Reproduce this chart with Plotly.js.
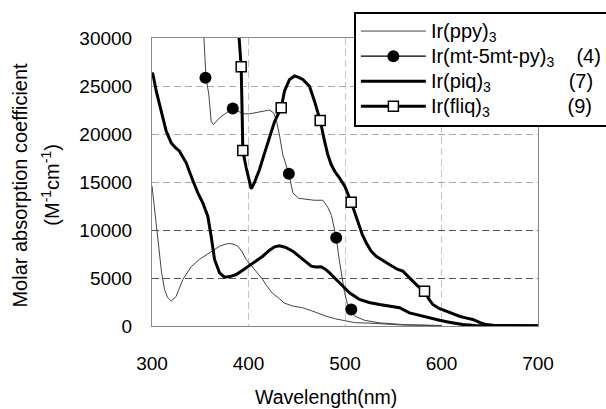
<!DOCTYPE html>
<html>
<head>
<meta charset="utf-8">
<script src="https://cdn.plot.ly/plotly-3.0.1.min.js"></script>
<style>html,body{margin:0;padding:0;background:#fff;}#chart{width:606px;height:409px;}</style>
</head>
<body>
<div id="chart"></div>
<script>
// Ir(ppy)3
const ppyX = [300,302,304,307.8,310,313,316,320,325,332,340.6,349,355,361,370,377,381,385,389,393,397.6,402,408,414.8,418,421.8,425,432,437,445,456,465,472,480.5,490,501,510,525,540,560,600];
const ppyY = [14600,12800,10400,7270,5500,3800,3000,2580,3100,4840,6170,6930,7300,7690,8310,8550,8590,8500,8310,7800,6930,6400,5710,4840,4300,3800,3400,2850,2400,2100,1900,1600,1300,1020,750,500,350,300,200,100,30];
// Ir(mt-5mt-py)3
const mtX = [353.5,354.4,356,358.9,361.3,363.7,367,370,377,383.7,390.7,396,401,406,411.4,416,421.8,426,428.7,432,435.5,441.8,446,452,459.8,468,477,482,486,489,490.9,494,497,499.5,503,506.5,509.8,520,535.8,560,600];
const mtY = [30500,28280,25850,24110,21330,20990,21300,21680,22200,22600,22300,22100,22100,22200,22300,22400,22500,22200,21500,19950,17860,15850,13870,13300,13180,13100,13100,12400,11500,10050,9190,6930,5000,3500,2100,1700,1050,600,330,150,50];
const mtMarkX = [355.4,383.7,441.8,490.9,506.5];
const mtMarkY = [25850,22650,15850,9190,1720];
// Ir(piq)3
const piqX = [300,301,304.4,309.5,314.7,319.9,324,328.5,335.4,342.3,347.5,352.6,357.8,361.3,364.8,370,375.1,381,387.3,394,401,408,414.8,421.8,427,432,438,446,456.3,465,470,475.3,480,484,494.3,504.7,515,525,535.8,546,556.5,566.8,577,587.6,598,608,615,622,635,650,700];
const piqY = [26400,26200,24460,22380,20300,19080,18600,18210,17000,15150,13870,12830,11440,9350,6930,5540,5080,5150,5360,5800,6300,6800,7270,7900,8250,8350,8200,7790,6930,6230,6150,6170,5900,5540,4500,3460,2760,2450,2240,2060,1900,1370,1100,850,600,400,250,150,50,20,0];
// Ir(fliq)3
const fliqX = [390,392.4,393.5,394.1,397.6,400,402.8,406,411.4,416,421.8,427,433.9,437.3,442.5,447.7,452,456.3,460,463.2,468.4,474.3,478.8,482,485.7,490,494.3,500,506.4,513.3,518,522,527,532.3,539,546,554.6,560,565,570.3,576,582.4,587,591,598,604.9,612,618.6,625,632.4,640,646.3,655,670,700];
const fliqY = [30400,27000,21690,18280,16480,15300,14300,14900,16300,17800,19700,21300,22730,24460,25680,26050,25900,25680,25300,24980,23420,21400,19250,17900,16820,16000,15430,14500,12900,10750,9500,8670,7800,7270,6800,6400,5890,5710,5200,4670,4100,3630,2800,2240,1800,1540,1250,1020,850,680,350,150,50,20,30];
const fliqMarkX = [392.4,394.1,433.9,474.3,506.4,582.4];
const fliqMarkY = [27000,18280,22730,21400,12900,3630];

const xTicks = [300,400,500,600,700];
const yTicks = [0,5000,10000,15000,20000,25000,30000];
const yDarkGrid = [5000,10000];

const seriesLabels = ['Ir(ppy)<sub>3</sub>', 'Ir(mt-5mt-py)<sub>3</sub>', 'Ir(piq)<sub>3</sub>', 'Ir(fliq)<sub>3</sub>'];
const compoundNumbers = ['', '(4)', '(7)', '(9)'];
const padCounts = [0, 4, 14, 14];

function legendName(i){
  const t = seriesLabels[i] + (compoundNumbers[i] ? '\u00a0'.repeat(padCounts[i]) + compoundNumbers[i] : '');
  return '<span style="font-size:20px">' + t + '</span>';
}
function withGaps(a){ const r=[]; a.forEach((v,i)=>{ if(i) r.push(null); r.push(v); }); return r; }

const thin = {color:'#444', width:1};
const thick = {color:'#000', width:3};

const traces = [
  {x:[300], y:[null], yaxis:'y2', mode:'lines', showlegend:false, hoverinfo:'skip'},
  {x:ppyX, y:ppyY, mode:'lines', line:thin, name:legendName(0)},
  {x:mtX, y:mtY, mode:'lines', line:thin, showlegend:false, hoverinfo:'skip'},
  {x:withGaps(mtMarkX), y:withGaps(mtMarkY), mode:'lines+markers', connectgaps:false,
   line:{color:'#000', width:1.3}, marker:{symbol:'circle', size:12, color:'#000'}, name:legendName(1)},
  {x:piqX, y:piqY, mode:'lines', line:thick, name:legendName(2)},
  {x:fliqX, y:fliqY, mode:'lines', line:thick, showlegend:false, hoverinfo:'skip'},
  {x:withGaps(fliqMarkX), y:withGaps(fliqMarkY), mode:'lines+markers', connectgaps:false,
   line:thick, marker:{symbol:'square', size:10, color:'#fff', line:{color:'#000', width:1.5}}, name:legendName(3)}
];

const font = 'Arial, "Liberation Sans", sans-serif';
const layout = {
  width:606, height:409,
  margin:{l:152, r:68, t:38, b:83, autoexpand:false},
  paper_bgcolor:'#fff', plot_bgcolor:'#fff',
  font:{family:font, size:19, color:'#000'},
  showlegend:true,
  legend:{x:0.523, y:1.092, xanchor:'left', yanchor:'top', bgcolor:'#fff',
    bordercolor:'#000', borderwidth:2, font:{family:font, size:17, color:'#000'},
    itemwidth:65, tracegroupgap:0},
  xaxis:{range:[300,700], tickvals:xTicks, ticks:'', ticklabelstandoff:20,
    showline:true, linecolor:'#888', linewidth:1, mirror:true,
    showgrid:true, gridcolor:'#c4c4c4', griddash:'7px,4px', gridwidth:1, zeroline:false,
    tickfont:{size:19}},
  yaxis:{range:[0,30000], tickvals:yTicks, tickformat:'d', ticks:'', ticklabelstandoff:15,
    showline:true, linecolor:'#888', linewidth:1, mirror:true,
    showgrid:true, gridcolor:'#aaa', griddash:'7px,4px', gridwidth:1, zeroline:false,
    tickfont:{size:19}},
  yaxis2:{range:[0,30000], overlaying:'y', tickvals:yDarkGrid, showticklabels:false, ticks:'',
    showgrid:true, gridcolor:'#555', griddash:'7px,4px', gridwidth:1, zeroline:false, showline:false},
  annotations:[
    {text:'Wavelength(nm)', xref:'paper', yref:'paper', x:0.451, y:-0.245,
     xanchor:'center', yanchor:'middle', showarrow:false, font:{size:19.5}},
    {text:'Molar absorption coefficient', xref:'paper', yref:'paper', x:-0.342, y:0.491,
     xanchor:'center', yanchor:'middle', textangle:-90, showarrow:false, font:{size:20}},
    {text:'(M<sup>-1</sup>cm<sup>-1</sup>)', xref:'paper', yref:'paper', x:-0.264, y:0.491,
     xanchor:'center', yanchor:'middle', textangle:-90, showarrow:false, font:{size:20}}
  ]
};

Plotly.newPlot('chart', traces, layout, {staticPlot:true, displayModeBar:false});
</script>
</body>
</html>
